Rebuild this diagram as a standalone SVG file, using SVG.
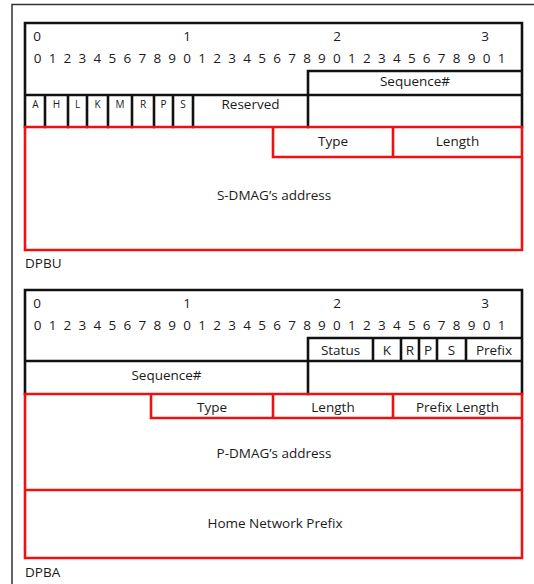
<svg xmlns="http://www.w3.org/2000/svg" width="534" height="584" viewBox="0 0 534 584">
  <style>
    text { font-family: "Open Sans", "Liberation Sans", sans-serif; font-size: 13.5px; fill: #1a1a1a; }
    .c { text-anchor: middle; }
    .flag { font-size: 10px; }
    .blk { stroke: #111; stroke-width: 2.6; fill: none; stroke-linecap: square; }
    .red { stroke: #ee1111; stroke-width: 2.6; fill: none; stroke-linecap: square; }
    .frame { stroke: #333; stroke-width: 1.5; fill: none; }
  </style>
  <rect width="534" height="584" fill="#ffffff"/>

  <!-- page frame -->
  <path class="frame" d="M12 584 V4.5 H534"/>

  <!-- DPBU header -->
  <g id="dpbu">
    <g id="dpbu-bits">
      <text x="37" y="41" class="c">0</text>
      <text x="187" y="41" class="c">1</text>
      <text x="337" y="41" class="c">2</text>
      <text x="485" y="41" class="c">3</text>
      <text y="62.5" class="c" x="37.5 52.5 67.4 82.4 97.4 112.3 127.3 142.3 157.3 172.2 187.2 202.2 217.1 232.1 247.1 262 277 292 307 321.9 336.9 351.9 366.8 381.8 396.8 411.8 426.7 441.7 456.7 471.6 486.6 501.6">01234567890123456789012345678901</text>
    </g>
    <path class="blk" d="M25 127 V23 H522 V127 M308 71 H522 M25 95 H522 M308 71 V127 M45 95 V127 M68 95 V127 M87 95 V127 M108 95 V127 M132 95 V127 M154 95 V127 M173 95 V127 M193 95 V127"/>
    <g id="dpbu-seq"><text x="415" y="86" class="c">Sequence#</text></g>
    <g id="dpbu-flags">
      <text x="35.5" y="107.5" class="c flag">A</text>
      <text x="56.5" y="107.5" class="c flag">H</text>
      <text x="77.5" y="107.5" class="c flag">L</text>
      <text x="97.5" y="107.5" class="c flag">K</text>
      <text x="120" y="107.5" class="c flag">M</text>
      <text x="143" y="107.5" class="c flag">R</text>
      <text x="163.5" y="107.5" class="c flag">P</text>
      <text x="183" y="107.5" class="c flag">S</text>
      <text x="250.5" y="109" class="c">Reserved</text>
    </g>
    <g id="dpbu-option">
      <path class="red" d="M25 127 H522 V250 H25 Z M273 127 V157 H522 M393 127 V157"/>
      <text x="333" y="146" class="c">Type</text>
      <text x="457.5" y="146" class="c">Length</text>
      <text x="274" y="200" class="c">S-DMAG’s address</text>
    </g>
    <text x="25" y="268">DPBU</text>
  </g>

  <!-- DPBA header -->
  <g id="dpba">
    <g id="dpba-bits">
      <text x="37" y="307.5" class="c">0</text>
      <text x="187" y="307.5" class="c">1</text>
      <text x="337" y="307.5" class="c">2</text>
      <text x="485" y="307.5" class="c">3</text>
      <text y="329.5" class="c" x="37.5 52.5 67.4 82.4 97.4 112.3 127.3 142.3 157.3 172.2 187.2 202.2 217.1 232.1 247.1 262 277 292 307 321.9 336.9 351.9 366.8 381.8 396.8 411.8 426.7 441.7 456.7 471.6 486.6 501.6">01234567890123456789012345678901</text>
    </g>
    <path class="blk" d="M25 394 V290 H522 V394 M308 338 H522 M25 361 H522 M308 338 V394 M373 338 V361 M401 338 V361 M419 338 V361 M437 338 V361 M466 338 V361"/>
    <g id="dpba-status">
      <text x="340.5" y="355" class="c">Status</text>
      <text x="387" y="355" class="c">K</text>
      <text x="410" y="355" class="c">R</text>
      <text x="428" y="355" class="c">P</text>
      <text x="451.5" y="355" class="c">S</text>
      <text x="494" y="355" class="c">Prefix</text>
    </g>
    <g id="dpba-seq"><text x="166.5" y="380" class="c">Sequence#</text></g>
    <g id="dpba-option">
      <path class="red" d="M25 394 H522 V558 H25 Z M151 394 V418 H522 M273 394 V418 M393 394 V418 M25 490 H522"/>
      <text x="212" y="412" class="c">Type</text>
      <text x="333" y="412" class="c">Length</text>
      <text x="457.5" y="412" class="c">Prefix Length</text>
      <text x="274" y="458" class="c">P-DMAG’s address</text>
      <text x="275" y="528" class="c">Home Network Prefix</text>
    </g>
    <text x="25" y="577">DPBA</text>
  </g>
</svg>
